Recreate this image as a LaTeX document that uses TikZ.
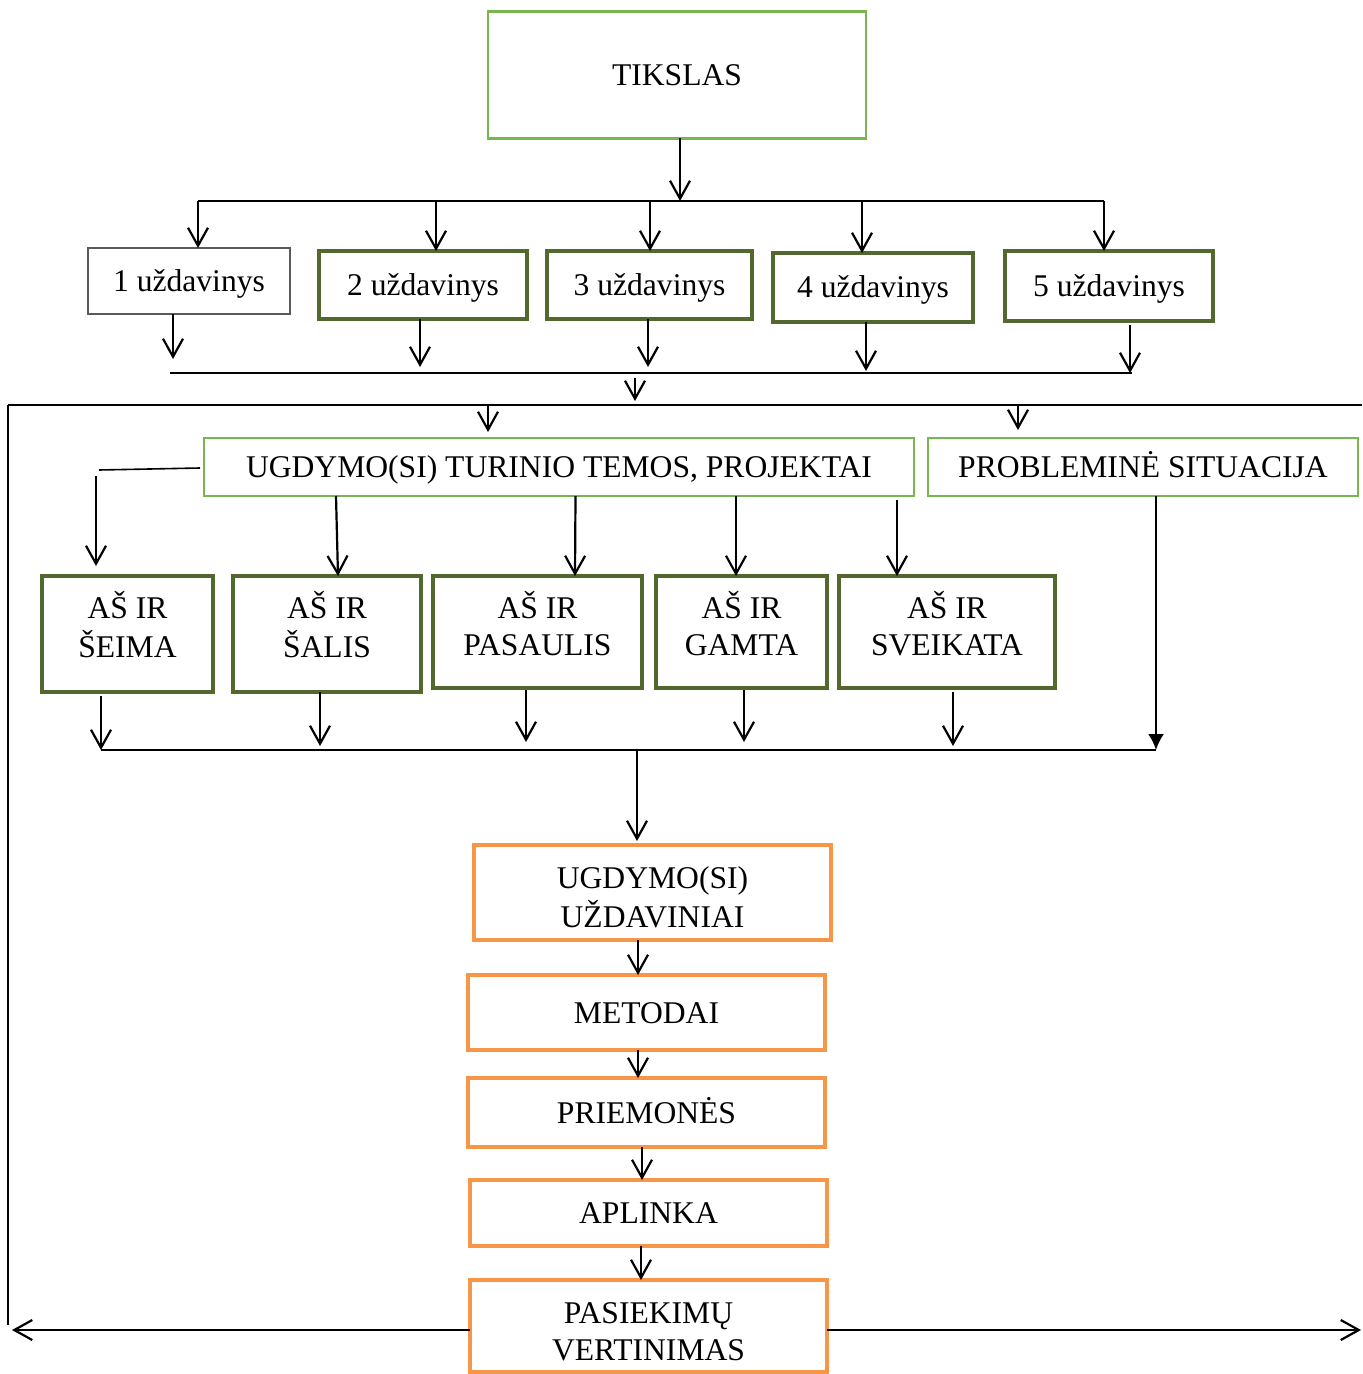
\documentclass[tikz,border=0pt]{standalone}
\usepackage{fontspec}
\setmainfont{Liberation Serif}
\usetikzlibrary{arrows.meta}
\definecolor{gLight}{RGB}{122,182,80}
\definecolor{gDark}{RGB}{82,104,44}
\definecolor{oBox}{RGB}{247,150,70}
\definecolor{gGray}{RGB}{90,90,90}
\newcommand\twolines[3]{\raisebox{#1}[\height][\depth]{\begin{tabular}{@{}c@{}}#2\\#3\end{tabular}}}
\begin{document}
\begin{tikzpicture}[x=0.5pt,y=-0.5pt,
  every node/.style={font=\fontsize{15.8pt}{18.5pt}\selectfont, align=center, inner sep=0pt, outer sep=0pt},
  one/.style={text height=10.5pt, text depth=0pt},
  bx/.style 2 args={draw, minimum width=#1*0.5pt, minimum height=#2*0.5pt},
  lg/.style={line width=1.1pt, draw=gLight},
  dg/.style={line width=2.3pt, draw=gDark},
  gy/.style={line width=1.3pt, draw=gGray},
  og/.style={line width=2.2pt, draw=oBox},
  arr/.style={line width=1.1pt, -{Straight Barb[length=9pt,width=10pt,line width=1.1pt]}},
  tri/.style={line width=1.1pt, -{Latex[length=8pt,width=8pt]}},
  bus/.style={line width=0.8pt}
]
\useasboundingbox (0,0) rectangle (1362,1374);
% nodes
\node[bx={378}{127}, lg, one] (tik) at (677,75) {TIKSLAS};
\node[bx={202}{66}, gy, one] (u1) at (189,281) {1 uždavinys};
\node[bx={208}{68}, dg, one] (u2) at (423,285) {2 uždavinys};
\node[bx={205}{68}, dg, one] (u3) at (649.5,285) {3 uždavinys};
\node[bx={200}{69}, dg, one] (u4) at (873,287.5) {4 uždavinys};
\node[bx={208}{70}, dg, one] (u5) at (1109,286) {5 uždavinys};
\node[bx={710}{58}, lg, one] (ug) at (559,467) {UGDYMO(SI) TURINIO TEMOS, PROJEKTAI};
\node[bx={430}{58}, lg, one] (pr) at (1143,467) {PROBLEMINĖ SITUACIJA};
\node[bx={171}{116}, dg] (s1) at (127.5,634) {\twolines{2pt}{AŠ IR}{ŠEIMA}};
\node[bx={188}{116}, dg] (s2) at (327,634) {\twolines{2pt}{AŠ IR}{ŠALIS}};
\node[bx={209}{112}, dg] (s3) at (537.5,632) {\twolines{1.5pt}{AŠ IR}{PASAULIS}};
\node[bx={171}{112}, dg] (s4) at (741.5,632) {\twolines{1.5pt}{AŠ IR}{GAMTA}};
\node[bx={216}{112}, dg] (s5) at (947,632) {\twolines{1.5pt}{AŠ IR}{SVEIKATA}};
\node[bx={357}{95}, og] (o1) at (652.5,892.5) {\twolines{-4pt}{UGDYMO(SI)}{UŽDAVINIAI}};
\node[bx={357}{75}, og, one] (o2) at (646.5,1012.5) {METODAI};
\node[bx={357}{69}, og, one] (o3) at (646.5,1112.5) {PRIEMONĖS};
\node[bx={357}{66}, og, one] (o4) at (648.5,1213) {APLINKA};
\node[bx={357}{92}, og] (o5) at (648.5,1326) {\twolines{-4.5pt}{PASIEKIMŲ}{VERTINIMAS}};
% coordinates
\coordinate (b1) at (198,201);
\coordinate (b2) at (436,201);
\coordinate (b3) at (650,201);
\coordinate (b4) at (862,201);
\coordinate (b5) at (1104,201);
\coordinate (bt) at (680,201);
\coordinate (c1) at (173,373);
\coordinate (c2) at (420,373);
\coordinate (c3) at (648,373);
\coordinate (c4) at (866,373);
\coordinate (c5) at (1130,373);
\coordinate (m1) at (635,378);
\coordinate (fL) at (8,405);
\coordinate (fR) at (1362,405);
\coordinate (fB) at (8,1325);
\coordinate (f1) at (488,405);
\coordinate (f2) at (1018,405);
\coordinate (ugL) at (99,470);
\coordinate (ugA) at (96,476);
\coordinate (d1) at (101,750);
\coordinate (d2) at (320,750);
\coordinate (d3) at (526,750);
\coordinate (d4) at (744,750);
\coordinate (d5) at (953,750);
\coordinate (d6) at (1156,750);
\coordinate (dm) at (637,750);
\coordinate (eL) at (12,1330);
\coordinate (eR) at (1361,1330);
% top section
\draw[arr] (tik.south -| bt) -- (bt);
\draw[line width=1pt] (b1) -- (b5);
\draw[arr] (b1) -- (b1 |- u1.north);
\draw[arr] (b2) -- (b2 |- u2.north);
\draw[arr] (b3) -- (b3 |- u3.north);
\draw[arr] (b4) -- (b4 |- u4.north);
\draw[arr] (b5) -- (b5 |- u5.north);
\draw[bus] (170,373) -- (1132,373);
\draw[arr, shorten >=7pt] (c1 |- u1.south) -- (c1);
\draw[arr, shorten >=3pt] (c2 |- u2.south) -- (c2);
\draw[arr, shorten >=3pt] (c3 |- u3.south) -- (c3);
\draw[arr, shorten >=1pt] (c4 |- u4.south) -- (c4);
\draw[arr] (c5 |- u5.south) ++(0,4) -- (c5);
\draw[arr, shorten >=2pt] (m1) -- (m1 |- fL);
% frame
\draw[line width=1.1pt] (fR) -- (fL);
\draw[line width=0.7pt] (fL) -- (fB);
\draw[arr, shorten >=3pt] (f1) -- (f1 |- ug.north);
\draw[arr, shorten >=4pt] (f2) -- (f2 |- pr.north);
% UGDYMO to topics
\draw[line width=0.8pt] (ug.west) ++(-4,1) -- (ugL);
\draw[arr, shorten >=5pt] (ugA) -- (ugA |- s1.north);
\draw[arr] (336,496) -- (s2.north -| 338,0);
\draw[arr] (ug.south -| s3.north) ++(38,0) -- (575,0 |- s3.north);
\draw[arr] (ug.south -| 736,0) -- (736,0 |- s4.north);
\draw[arr] (897,500) -- (897,0 |- s5.north);
% topics to bus
\draw[bus] (d1) -- (d6);
\draw[arr] (d1 |- s1.south) ++(0,4) -- (d1);
\draw[arr, shorten >=2pt] (d2 |- s2.south) -- (d2);
\draw[arr, shorten >=4pt] (d3 |- s3.south) ++(0,2) -- (d3);
\draw[arr, shorten >=4pt] (d4 |- s4.south) ++(0,2) -- (d4);
\draw[arr, shorten >=2pt] (d5 |- s5.south) ++(0,4) -- (d5);
\draw[tri] (d6 |- pr.south) -- (d6);
\draw[arr, shorten >=2pt] (dm) -- (dm |- o1.north);
% orange chain
\draw[arr] (o1.south -| 638,0) -- (638,0 |- o2.north);
\draw[arr] (o2.south -| 638,0) -- (638,0 |- o3.north);
\draw[arr] (o3.south -| 642,0) -- (642,0 |- o4.north);
\draw[arr] (o4.south -| 641,0) -- (641,0 |- o5.north);
% bottom
\draw[arr] (o5.west |- eL) -- (eL);
\draw[arr] (o5.east |- eR) -- (eR);
\end{tikzpicture}
\end{document}
